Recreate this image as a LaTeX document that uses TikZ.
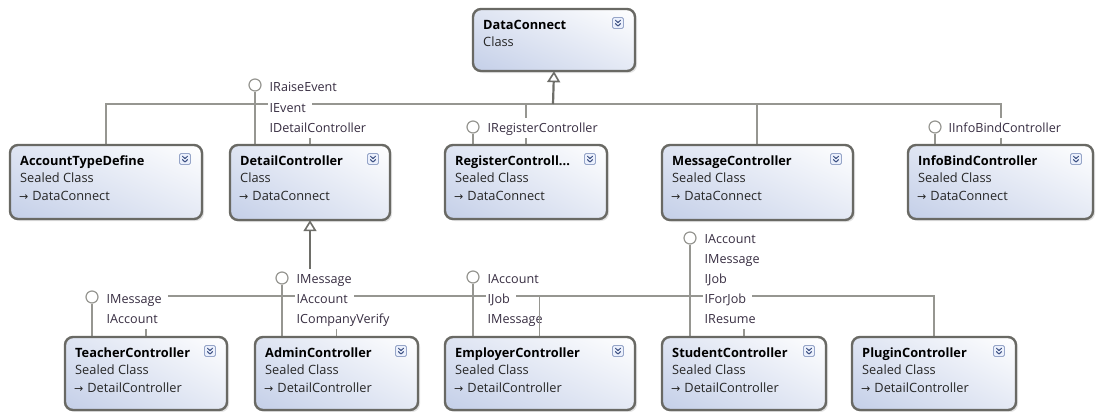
\documentclass[tikz,border=0pt]{standalone}
\usepackage{fontspec}
\setmainfont{Open Sans}
\newfontfamily\symfont{DejaVu Sans}
\usetikzlibrary{arrows.meta,shadows,shadings}

\definecolor{boxedge}{RGB}{105,105,100}
\definecolor{boxfill}{RGB}{196,207,232}
\definecolor{wire}{RGB}{150,150,145}
\definecolor{genwire}{RGB}{110,110,105}
\definecolor{ifacetext}{RGB}{55,45,65}
\definecolor{iconedge}{RGB}{150,165,200}
\definecolor{iconfill}{RGB}{235,240,252}
\definecolor{iconmark}{RGB}{60,80,130}

\tikzset{
  x=1pt, y=-1pt,
  classbox/.style={draw=boxedge, line width=2.4pt, rounded corners=8pt,
    shading=bilinear interpolation,
    lower left=boxfill, lower right=boxfill!45!white,
    upper left=boxfill!55!white, upper right=white,
    drop shadow={opacity=0.22, shadow xshift=2pt, shadow yshift=-2pt},
    inner sep=0pt},
  ctitle/.style={font=\fontsize{12.8}{15}\selectfont\bfseries, inner sep=0pt, anchor=base west},
  cline/.style={font=\fontsize{12.8}{15}\selectfont, inner sep=0pt, anchor=base west, text=black!85},
  iface/.style={font=\fontsize{12.6}{15}\selectfont, text=ifacetext, fill=white,
    inner xsep=1.5pt, inner ysep=0pt, text height=14pt, text depth=6pt, anchor=base west,
    execute at end node=\hspace{4.5pt}},
  lolly/.style={circle, draw=wire, fill=white, line width=1.2pt, minimum size=12pt, inner sep=0pt},
  wireline/.style={draw=wire, line width=1.6pt},
  genline/.style={draw=genwire, line width=2.2pt},
  genarrow/.style={genline, -{Triangle[open, length=11pt, width=13pt, line width=1.6pt]}},
  expander/.pic={
    \draw[draw=iconedge, fill=iconfill, rounded corners=1.5pt, line width=0.8pt]
      (-5.5,-5.5) rectangle (5.5,5.5);
    \draw[iconmark, line width=1pt, line cap=round, line join=round]
      (-2.6,-2.8) -- (0,-0.4) -- (2.6,-2.8)
      (-2.6,0.6) -- (0,3) -- (2.6,0.6);
  }
}

% class box: name, x1, y1, x2, y2, title, kind, parent
\newcommand\umlclass[8]{%
  \node[classbox, minimum width={#4-#2}, minimum height={#5-#3}] (#1)
    at ({(#2+#4)/2},{(#3+#5)/2}) {};
  \node[ctitle] (#1-title) at ({#2+10},{#3+20.5}) {#6};
  \node[cline] (#1-kind) at ({#2+10},{#3+37.5}) {#7};
  \if\relax\detokenize{#8}\relax\else
    \node[cline] (#1-parent) at ({#2+9},{#3+55.5})
      {{\symfont\fontsize{11}{11}\selectfont →}\hspace{4pt}#8};
  \fi
  \pic at ({#4-17},{#3+14}) {expander};
}

\begin{document}
\begin{tikzpicture}
\fill[white] (0,0) rectangle (1097,412);
\useasboundingbox (0,0) rectangle (1097,412);

% ---- lollipop circles -------------------------------------------------
\node[lolly] (l-detail)   at (255,85)  {};
\node[lolly] (l-register) at (473,127) {};
\node[lolly] (l-info)     at (935,127) {};
\node[lolly] (l-teacher)  at (92,297)  {};
\node[lolly] (l-admin)    at (282,278) {};
\node[lolly] (l-employer) at (473,277) {};
\node[lolly] (l-student)  at (690,238) {};

\coordinate (topbus) at (553,104);
\coordinate (lowbus) at (310,296);

% outlines of the classes, used as connector anchors
\path
  node[minimum width=162, minimum height=62, inner sep=0pt] (c-data)    at (554,40) {}
  node[minimum width=192, minimum height=74, inner sep=0pt] (c-account) at (106,182) {}
  node[minimum width=160, minimum height=75, inner sep=0pt] (c-detail)  at (310,182.5) {}
  node[minimum width=162, minimum height=74, inner sep=0pt] (c-register) at (526,182) {}
  node[minimum width=191, minimum height=75, inner sep=0pt] (c-message) at (757,182.5) {}
  node[minimum width=185, minimum height=74, inner sep=0pt] (c-info)    at (1001,182) {}
  node[minimum width=162, minimum height=74, inner sep=0pt] (c-teacher) at (146,373.5) {}
  node[minimum width=163, minimum height=74, inner sep=0pt] (c-admin)   at (336.5,373.5) {}
  node[minimum width=190, minimum height=74, inner sep=0pt] (c-employer) at (539.5,373.5) {}
  node[minimum width=164, minimum height=74, inner sep=0pt] (c-student) at (744,373.5) {}
  node[minimum width=164, minimum height=74, inner sep=0pt] (c-plugin)  at (934,373.5) {};

% ---- generalisation: first level --------------------------------------
\draw[wireline] (c-account.north) |- (topbus);
\draw[wireline] (c-info.north) |- (topbus);
\draw[wireline] (c-detail.north) -- (c-detail.north |- topbus);
\draw[wireline] (c-register.north) -- (c-register.north |- topbus);
\draw[wireline] (c-message.north) -- (c-message.north |- topbus);
\draw[genarrow] (topbus) -- (c-data.south);

% ---- generalisation: second level -------------------------------------
\draw[wireline] (c-teacher.north) |- (lowbus);
\draw[wireline] (c-plugin.north) |- (lowbus);
\draw[wireline] (c-admin.north) -- (c-admin.north |- lowbus);
\draw[wireline] (c-student.north) -- (c-student.north |- lowbus);
\draw[genarrow] (lowbus) -- (c-detail.south);

% ---- lollipop stems ----------------------------------------------------
\draw[wireline] (l-detail.south)   -- (l-detail |- c-detail.north);
\draw[wireline] (l-register.south) -- (l-register |- c-register.north);
\draw[wireline] (l-info.south)     -- (l-info |- c-info.north);
\draw[wireline] (l-teacher.south)  -- (l-teacher |- c-teacher.north);
\draw[wireline] (l-admin.south)    -- (l-admin |- c-admin.north);
\draw[wireline] (l-employer.south) -- (l-employer |- c-employer.north);
\draw[wireline] (l-student.south)  -- (l-student |- c-student.north);

% ---- interface names ---------------------------------------------------
\node[iface] (i-d1) at (268,92)  {IRaiseEvent};
\node[iface] (i-d2) at (268,112) {IEvent};
\node[iface] (i-d3) at (268,132) {IDetailController};
\node[iface] (i-r1) at (486,132) {IRegisterController};
\node[iface] (i-f1) at (947,132) {IInfoBindController};
\node[iface] (i-t1) at (105,303) {IMessage};
\node[iface] (i-t2) at (105,323) {IAccount};
\node[iface] (i-a1) at (295,283) {IMessage};
\node[iface] (i-a2) at (295,303) {IAccount};
\node[iface] (i-a3) at (295,323) {ICompanyVerify};
\node[iface] (i-e1) at (486,283) {IAccount};
\node[iface] (i-e2) at (486,303) {IJob};
\node[iface] (i-e3) at (486,323) {IMessage};
\node[iface] (i-s1) at (703,243) {IAccount};
\node[iface] (i-s2) at (703,263) {IMessage};
\node[iface] (i-s3) at (703,283) {IJob};
\node[iface] (i-s4) at (703,303) {IForJob};
\node[iface] (i-s5) at (703,323) {IResume};

% the employer branch runs in front of its interface names
\draw[wireline] (c-employer.north) -- (c-employer.north |- lowbus);

% ---- classes -------------------------------------------------------------
\umlclass{data}{473}{9}{635}{71}{DataConnect}{Class}{}
\umlclass{account}{10}{145}{202}{219}{AccountTypeDefine}{Sealed Class}{DataConnect}
\umlclass{detail}{230}{145}{390}{220}{DetailController}{Class}{DataConnect}
\umlclass{register}{445}{145}{607}{219}{RegisterControll...}{Sealed Class}{DataConnect}
\umlclass{message}{662}{145}{853}{220}{MessageController}{Sealed Class}{DataConnect}
\umlclass{info}{908}{145}{1093}{219}{InfoBindController}{Sealed Class}{DataConnect}
\umlclass{teacher}{65}{337}{227}{410}{TeacherController}{Sealed Class}{DetailController}
\umlclass{admin}{255}{337}{418}{410}{AdminController}{Sealed Class}{DetailController}
\umlclass{employer}{445}{337}{635}{410}{EmployerController}{Sealed Class}{DetailController}
\umlclass{student}{662}{337}{826}{410}{StudentController}{Sealed Class}{DetailController}
\umlclass{plugin}{852}{337}{1016}{410}{PluginController}{Sealed Class}{DetailController}
\end{tikzpicture}
\end{document}
